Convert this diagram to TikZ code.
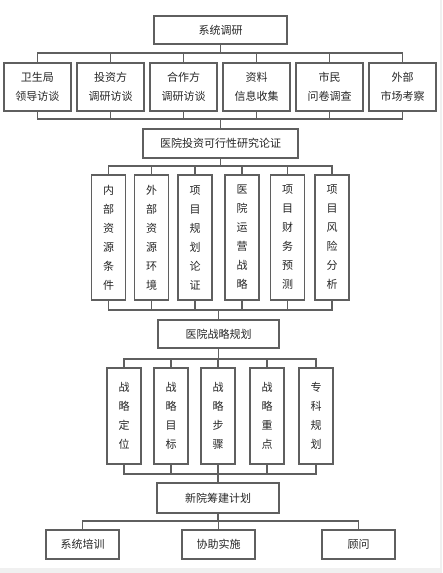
\documentclass[tikz,border=0pt]{standalone}
\usepackage{fontspec}
\setmainfont{Noto Sans CJK SC}
\definecolor{linegray}{RGB}{95,95,95}
\definecolor{bggray}{RGB}{240,240,240}
\usetikzlibrary{positioning}

\begin{document}
\begin{tikzpicture}[x=1pt,y=-1pt,
    every node/.style={draw=linegray,line width=1.1pt,inner sep=0pt,align=center,
      text=black!85,font=\fontsize{11}{19}\selectfont},
    headbox/.style={minimum height=28pt},
    rowbox/.style={minimum width=67pt,minimum height=48pt},
    colbox/.style={minimum width=34pt,text width=12pt},
    footbox/.style={minimum width=73pt,minimum height=29pt},
    link/.style={draw=linegray,line width=1.1pt},
    node distance=4.9pt
    ]

    % background
    \fill[bggray] (0,0) rectangle (442,573);
    \fill[white] (0,0) rectangle (440,568);

    \node (sys) [headbox,minimum width=133pt] at (220.5,30) {系统调研};
    \node (r1) [rowbox] at (37.5,87) {卫生局\\领导访谈};
    \node (r2) [rowbox,right=of r1] {投资方\\调研访谈};
    \node (r3) [rowbox,right=of r2] {合作方\\调研访谈};
    \node (r4) [rowbox,right=of r3] {资料\\信息收集};
    \node (r5) [rowbox,right=of r4] {市民\\问卷调查};
    \node (r6) [rowbox,right=of r5] {外部\\市场考察};

    \node (feas) [headbox,minimum width=155pt,minimum height=29pt] at (220.5,143.5) {医院投资可行性研究论证};
    \node (c1) [colbox,minimum height=125pt] at (108.5,237.5) {内\\部\\资\\源\\条\\件};
    \node (c2) [colbox,minimum height=125pt] at (151.5,237.5) {外\\部\\资\\源\\环\\境};
    \node (c3) [colbox,minimum height=125pt] at (195,237.5) {项\\目\\规\\划\\论\\证};
    \node (c4) [colbox,minimum height=125pt] at (242,237.5) {医\\院\\运\\营\\战\\略};
    \node (c5) [colbox,minimum height=125pt] at (287.5,237.5) {项\\目\\财\\务\\预\\测};
    \node (c6) [colbox,minimum height=125pt] at (332,237.5) {项\\目\\风\\险\\分\\析};

    \node (plan) [headbox,minimum width=121pt] at (218.5,334) {医院战略规划};
    \node (s1) [colbox,minimum height=96pt] at (124,416) {战\\略\\定\\位};
    \node (s2) [colbox,minimum height=96pt] at (171,416) {战\\略\\目\\标};
    \node (s3) [colbox,minimum height=96pt] at (218,416) {战\\略\\步\\骤};
    \node (s4) [colbox,minimum height=96pt] at (267,416) {战\\略\\重\\点};
    \node (s5) [colbox,minimum height=96pt] at (316,416) {专\\科\\规\\划};

    \node (build) [headbox,minimum width=122pt,minimum height=30pt] at (218,498) {新院筹建计划};
    \node (f1) [footbox] at (82.5,544.5) {系统培训};
    \node (f2) [footbox] at (218.5,544.5) {协助实施};
    \node (f3) [footbox] at (358.5,544.5) {顾问};

    % the buses
    \coordinate (b1) at (220.5,53);
    \coordinate (b2) at (220.5,119);
    \coordinate (b3) at (220.5,166);
    \coordinate (b4) at (218.5,310);
    \coordinate (b5) at (218.5,359);
    \coordinate (b6) at (218,474);
    \coordinate (b7) at (218,521);

    % the edges
    \foreach \i in {1,...,6} {
      \draw[link] (r\i.north) |- (b1) -| (sys.south);
      \draw[link] (r\i.south) |- (b2) -| (feas.north);
      \draw[link] (c\i.north) |- (b3) -| (feas.south);
      \draw[link] (c\i.south) |- (b4) -| (plan.north);
    }
    \foreach \i in {1,...,5} {
      \draw[link] (s\i.north) |- (b5) -| (plan.south);
      \draw[link] (s\i.south) |- (b6) -| (build.north);
    }
    \foreach \i in {1,2,3}
      \draw[link] (f\i.north) |- (b7) -| (build.south);
\end{tikzpicture}
\end{document}
